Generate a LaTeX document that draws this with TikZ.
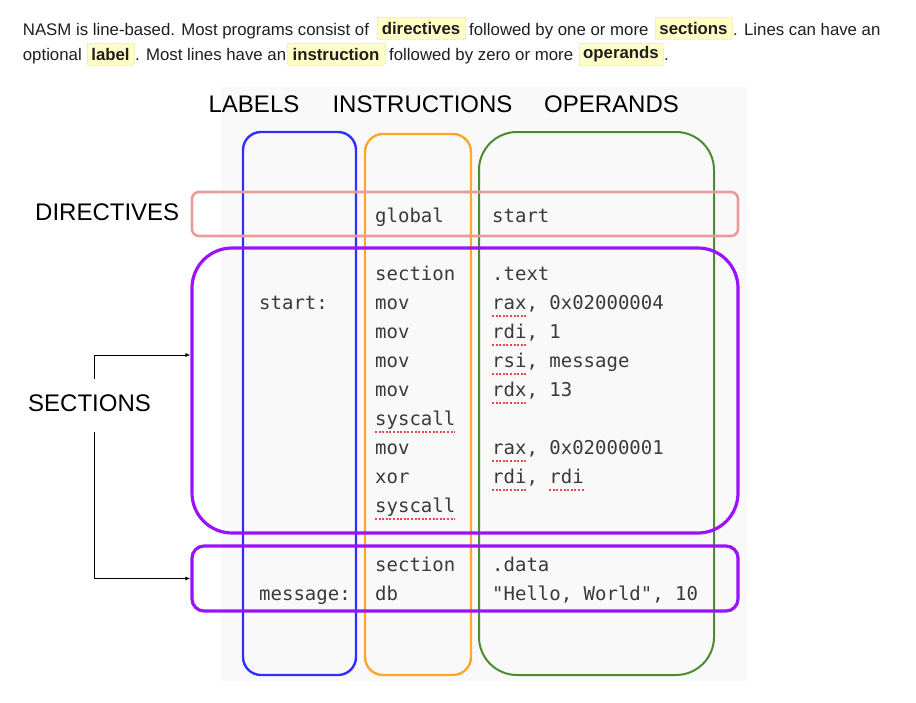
\documentclass[tikz,border=0pt]{standalone}
\usepackage{fontspec}
\setmainfont{Liberation Sans}
\newfontfamily\codefont{DejaVu Sans Mono}
\usetikzlibrary{arrows.meta}
\definecolor{bgcol}{HTML}{F9F9F9}
\definecolor{codegray}{HTML}{3A3A3A}
\definecolor{txt}{HTML}{1E1E1E}
\definecolor{hlfill}{HTML}{FFFFC6}
\definecolor{hlline}{HTML}{F2EC9A}
\definecolor{colblue}{HTML}{2F2FFF}
\definecolor{colorange}{HTML}{FFA62B}
\definecolor{colgreen}{HTML}{4D8B31}
\definecolor{colpink}{HTML}{E99C9C}
\definecolor{colpurple}{HTML}{9A12FF}
\definecolor{ulred}{HTML}{E8474C}
\tikzset{
  para/.style={anchor=base west, inner sep=0pt, text=txt, font=\fontsize{16.8}{16.8}\selectfont},
  hl/.style={fill=hlfill, draw=hlline, densely dotted, line width=0.6pt, inner sep=0pt, text=txt,
             font=\bfseries\fontsize{16.8}{16.8}\selectfont, minimum height=22pt},
  head/.style={anchor=base, inner sep=0pt, text=black, font=\fontsize{24}{24}\selectfont},
  side/.style={anchor=base west, inner sep=0pt, text=black, font=\fontsize{24}{24}\selectfont},
  colbox/.style={draw, line width=2.4pt, inner sep=0pt},
  rowbox/.style={draw, line width=2.6pt, inner sep=0pt, minimum width=546pt},
  code/.style={anchor=base west, inner sep=0pt, text=codegray, font=\codefont\fontsize{19}{19}\selectfont},
  redul/.style={draw=ulred, line width=2pt, dash pattern=on 2pt off 1.6pt},
  arr/.style={draw=black, line width=0.8pt, -{Latex[length=5pt,width=4pt]}}
}
\begin{document}
\begin{tikzpicture}[x=1pt,y=-1pt]
\useasboundingbox (0,0) rectangle (916,702);
% paragraph
\node[para] (p1) at (22.7,35) {NASM is line-based. Most programs consist of};
\node[hl, minimum width=88pt] (h1) at (421,28) {directives};
\node[para] (p2) at (469,35) {followed by one or more};
\node[hl, minimum width=77pt] (h2) at (693.5,28) {sections};
\node[para] (p3) at (733,35) {. Lines can have an};
\node[para] (p4) at (22.7,60) {optional};
\node[hl, minimum width=47pt] (h3) at (110.5,54) {label};
\node[para] (p5) at (135,60) {. Most lines have an};
\node[hl, minimum width=98pt] (h4) at (336,54) {instruction};
\node[para] (p6) at (389,60) {followed by zero or more};
\node[hl, minimum width=84pt] (h5) at (621,54) {operands};
\node[para] (p7) at (664,60) {.};
% background panel
\fill[bgcol] (221,87) rectangle (747,681);
% column headers
\node[head] (hlab) at (254,112) {LABELS};
\node[head] (hins) at (422.5,112) {INSTRUCTIONS};
\node[head] (hops) at (611.5,112) {OPERANDS};
% columns
\node[colbox, draw=colblue, minimum width=113pt, minimum height=543pt, rounded corners=18pt] (labels) at (299.5,403.5) {};
\node[colbox, draw=colorange, minimum width=106pt, minimum height=541pt, rounded corners=18pt] (instr) at (418,404.5) {};
\node[colbox, draw=colgreen, line width=2pt, minimum width=235pt, minimum height=543pt, rounded corners=38pt] (opers) at (596.5,403.5) {};
% rows
\node[rowbox, draw=colpink, minimum height=44pt, rounded corners=7pt] (dirs) at (465,214) {};
\node[rowbox, draw=colpurple, line width=3.2pt, minimum height=285pt, rounded corners=40pt] (sec1) at (465,390.5) {};
\node[rowbox, draw=colpurple, line width=3.2pt, minimum height=65pt, rounded corners=12pt] (sec2) at (465,578.5) {};
% side labels
\node[side] (ldir) at (35,220) {DIRECTIVES};
\node[side] (lsec) at (28,411) {SECTIONS};
\coordinate (sa) at (94,379);
\coordinate (sb) at (94,432);
\draw[arr] (sa) |- ([yshift=35.5pt]sec1.west);
\draw[arr] (sb) |- (sec2.west);
% code
\node[code] (i0) at (375,222) {global};
\node[code] (o0) at (492,222) {start};
\node[code] (i1) at (375,280) {section};
\node[code] (o1) at (492,280) {.text};
\node[code] (lb1) at (259,309) {start:};
\node[code] (i2) at (375,309) {mov};
\node[code] (o2) at (492,309) {rax, 0x02000004};
\node[code] (i3) at (375,338) {mov};
\node[code] (o3) at (492,338) {rdi, 1};
\node[code] (i4) at (375,367) {mov};
\node[code] (o4) at (492,367) {rsi, message};
\node[code] (i5) at (375,396) {mov};
\node[code] (o5) at (492,396) {rdx, 13};
\node[code] (i6) at (375,425) {syscall};
\node[code] (i7) at (375,454) {mov};
\node[code] (o7) at (492,454) {rax, 0x02000001};
\node[code] (i8) at (375,483) {xor};
\node[code] (o8) at (492,483) {rdi, rdi};
\node[code] (i9) at (375,512) {syscall};
\node[code] (i10) at (375,571) {section};
\node[code] (o10) at (492,571) {.data};
\node[code] (lb2) at (259,600) {message:};
\node[code] (i11) at (375,600) {db};
\node[code] (o11) at (492,600) {"Hello, World", 10};
% spell-check underlines
\foreach \n in {o2,o3,o4,o5,o7,o8}{
  \draw[redul] ([yshift=-6.5pt]\n.base west) -- ++(34.3,0);
}
\draw[redul] ([yshift=-6.5pt,xshift=57.2pt]o8.base west) -- ++(34.3,0);
\draw[redul] ([yshift=-7pt]i6.base west) -- ++(80,0);
\draw[redul] ([yshift=-7pt]i9.base west) -- ++(80,0);
\end{tikzpicture}
\end{document}
